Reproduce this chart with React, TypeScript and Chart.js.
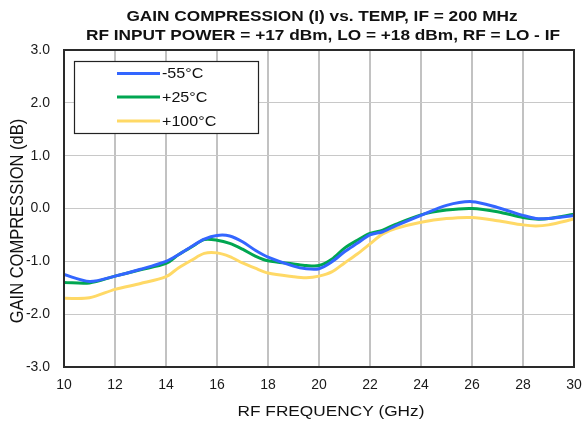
import React, { useEffect, useRef } from 'react';
import { Chart, registerables } from 'chart.js';

Chart.register(...registerables);

const TITLE_LINE_1 = 'GAIN COMPRESSION (I) vs. TEMP, IF = 200 MHz';
const TITLE_LINE_2 = 'RF INPUT POWER = +17 dBm, LO = +18 dBm, RF = LO - IF';
const X_TITLE = 'RF FREQUENCY (GHz)';
const Y_TITLE = 'GAIN COMPRESSION (dB)';

const SERIES_LABELS = ['-55°C', '+25°C', '+100°C'];
const SERIES_COLORS = ['#3366ff', '#00a651', '#ffd966'];

const FREQ_GHZ = [10, 11, 12, 13, 14, 14.5, 15, 15.5, 16, 16.5, 17, 17.5, 18, 19, 19.5, 20, 20.5, 21, 21.5, 22, 22.5, 23, 24, 25, 26, 27, 28, 28.5, 29, 30];

const GAIN_M55 = [-1.25, -1.38, -1.28, -1.15, -1.0, -0.87, -0.72, -0.58, -0.51, -0.52, -0.63, -0.79, -0.92, -1.09, -1.14, -1.14, -1.01, -0.82, -0.66, -0.5, -0.44, -0.33, -0.13, 0.06, 0.13, 0.02, -0.13, -0.19, -0.19, -0.13];
const GAIN_P25 = [-1.4, -1.41, -1.28, -1.16, -1.04, -0.87, -0.73, -0.59, -0.6, -0.66, -0.77, -0.9, -0.99, -1.05, -1.08, -1.08, -0.96, -0.75, -0.6, -0.47, -0.41, -0.3, -0.12, -0.03, 0.0, -0.06, -0.17, -0.2, -0.19, -0.11];
const GAIN_P100 = [-1.7, -1.69, -1.53, -1.42, -1.29, -1.12, -0.98, -0.85, -0.84, -0.91, -1.03, -1.13, -1.22, -1.29, -1.31, -1.28, -1.2, -1.03, -0.86, -0.67, -0.48, -0.38, -0.26, -0.19, -0.17, -0.23, -0.31, -0.33, -0.31, -0.2];

const X_MIN = 10;
const X_MAX = 30;
const X_STEP = 2;
const Y_MIN = -3;
const Y_MAX = 3;
const Y_STEP = 1;

const FONT = '"Liberation Sans", Arial, Helvetica, sans-serif';
const STRETCH = 1.15;

function stretchText(ctx: CanvasRenderingContext2D, text: string, x: number, y: number, font: string, align: CanvasTextAlign, baseline: CanvasTextBaseline) {
  ctx.save();
  ctx.translate(x, y);
  ctx.scale(STRETCH, 1);
  ctx.font = font;
  ctx.textAlign = align;
  ctx.textBaseline = baseline;
  ctx.fillStyle = '#111';
  ctx.fillText(text, 0, 0);
  ctx.restore();
}

const decorPlugin = {
  id: 'decor',
  afterDatasetsDraw(chart: any) {
    const { ctx, chartArea } = chart;
    ctx.save();
    ctx.strokeStyle = '#2a2a2a';
    ctx.lineWidth = 2;
    ctx.strokeRect(chartArea.left, chartArea.top, chartArea.right - chartArea.left, chartArea.bottom - chartArea.top);
    ctx.restore();
  },
  afterDraw(chart: any) {
    const { ctx, chartArea } = chart;
    stretchText(ctx, TITLE_LINE_1, 322, 21, `bold 15px ${FONT}`, 'center', 'alphabetic');
    stretchText(ctx, TITLE_LINE_2, 323, 40, `bold 15px ${FONT}`, 'center', 'alphabetic');
    stretchText(ctx, X_TITLE, 331, 416, `15px ${FONT}`, 'center', 'alphabetic');
    ctx.save();
    ctx.translate(18, 221);
    ctx.rotate(-Math.PI / 2);
    ctx.scale(1, STRETCH);
    ctx.font = `16.5px ${FONT}`;
    ctx.textAlign = 'center';
    ctx.textBaseline = 'middle';
    ctx.fillStyle = '#111';
    ctx.fillText(Y_TITLE, 0, 0);
    ctx.restore();

    const bx = chartArea.left + 10;
    const by = chartArea.top + 11;
    const bw = 184;
    const bh = 72;
    ctx.save();
    ctx.fillStyle = '#ffffff';
    ctx.fillRect(bx, by, bw, bh);
    ctx.strokeStyle = '#222';
    ctx.lineWidth = 1.2;
    ctx.strokeRect(bx + 0.5, by + 0.5, bw, bh);
    const rows = [12.5, 36, 60];
    SERIES_LABELS.forEach((label, i) => {
      const y = by + rows[i];
      ctx.strokeStyle = SERIES_COLORS[i];
      ctx.lineWidth = 3;
      ctx.beginPath();
      ctx.moveTo(bx + 43, y);
      ctx.lineTo(bx + 86, y);
      ctx.stroke();
      stretchText(ctx, label, bx + 88, y + 1, `14px ${FONT}`, 'left', 'middle');
    });
    ctx.restore();
  },
};

export default function App() {
  const canvasRef = useRef<HTMLCanvasElement | null>(null);

  useEffect(() => {
    document.body.style.margin = '0';
    const canvas = canvasRef.current;
    if (!canvas) return;
    const series = [GAIN_M55, GAIN_P25, GAIN_P100];
    const chart = new Chart(canvas, {
      type: 'line',
      data: {
        datasets: series.map((vals, i) => ({
          label: SERIES_LABELS[i],
          data: FREQ_GHZ.map((f, j) => ({ x: f, y: vals[j] })),
          borderColor: SERIES_COLORS[i],
          backgroundColor: SERIES_COLORS[i],
          borderWidth: 3,
          pointRadius: 0,
          tension: 0.3,
          fill: false,
        })),
      },
      options: {
        responsive: false,
        animation: false,
        devicePixelRatio: 1,
        layout: { padding: { top: 50, right: 8, left: 0, bottom: 0 } },
        plugins: {
          legend: { display: false },
          title: { display: false },
          tooltip: { enabled: false },
        },
        scales: {
          x: {
            type: 'linear',
            min: X_MIN,
            max: X_MAX,
            ticks: {
              stepSize: X_STEP,
              padding: 10,
              color: '#1a1a1a',
              font: { family: FONT, size: 14 },
              maxRotation: 0,
            },
            grid: { color: '#c2c2c2', lineWidth: 2, drawTicks: false },
            border: { display: false },
            afterFit: (scale: any) => {
              scale.height = 56;
              scale.paddingLeft = 0;
              scale.paddingRight = 0;
            },
          },
          y: {
            type: 'linear',
            min: Y_MIN,
            max: Y_MAX,
            ticks: {
              stepSize: Y_STEP,
              padding: 14,
              color: '#1a1a1a',
              font: { family: FONT, size: 14 },
              callback: (v: any) => Number(v).toFixed(1),
            },
            grid: { color: '#c8c8c8', lineWidth: 1, drawTicks: false },
            border: { display: false },
            afterFit: (scale: any) => {
              scale.width = 64;
              scale.paddingTop = 0;
              scale.paddingBottom = 0;
            },
          },
        },
      },
      plugins: [decorPlugin],
    });
    return () => chart.destroy();
  }, []);

  return (
    <div style={{ width: 582, height: 423, background: '#fff' }}>
      <canvas ref={canvasRef} width={582} height={423} style={{ display: 'block' }} />
    </div>
  );
}
